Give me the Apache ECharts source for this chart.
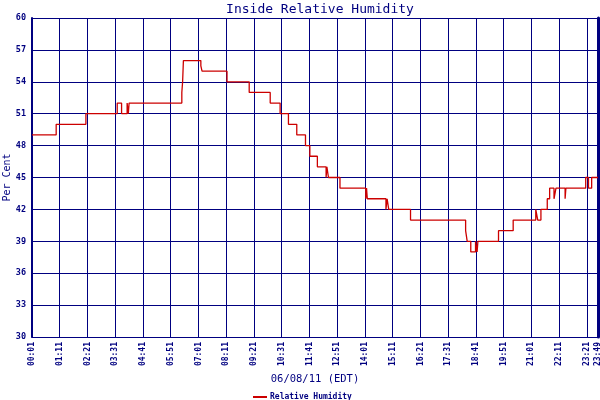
<!DOCTYPE html>
<html>
<head>
<meta charset="utf-8">
<script src="https://cdn.jsdelivr.net/npm/echarts@6/dist/echarts.min.js"></script>
<style>
  html, body { margin: 0; padding: 0; background: #fff; }
  #chart { width: 600px; height: 400px; }
</style>
</head>
<body>
<div id="chart"></div>
<script>
// minutes after 00:01 where a new reading starts
var stepMinutes = [0, 61, 136, 215, 226, 240, 243, 245,
  378, 380, 382, 426, 429, 492,
  548, 601, 626, 647, 668, 690, 701, 720,
  742, 744, 748, 777,
  842, 844, 846,
  893, 896, 900,
  955, 1094, 1098, 1107, 1119, 1123, 1125,
  1177, 1214,
  1271, 1276, 1284,
  1300, 1306, 1317, 1322, 1345, 1347,
  1397, 1404, 1412, 1428];
// relative humidity (%) from that minute on
var humidity = [49, 50, 51, 52, 51, 52, 51, 52,
  53, 54, 56, 55.5, 55, 54,
  53, 52, 51, 50, 49, 48, 47, 46,
  45, 46, 45, 44,
  43, 44, 43,
  42, 43, 42,
  41, 40, 39, 38, 39, 38, 39,
  40, 41,
  42, 41, 42,
  43, 44, 43, 44, 43, 44,
  45, 44, 45, 45];
var yMin = 30, yMax = 60, yStep = 3;
var xMax = 1428, xStep = 70;   // 00:01 .. 23:49, ticks every 70 min

var navy = '#000080';
var mono = '"DejaVu Sans Mono", "Liberation Mono", monospace';

function clock(m) {
  var t = m + 1;
  var h = Math.floor(t / 60), mm = t % 60;
  return (h < 10 ? '0' : '') + h + ':' + (mm < 10 ? '0' : '') + mm;
}

var pts = [];
for (var i = 0; i < stepMinutes.length; i++) {
  pts.push([stepMinutes[i], humidity[i]]);
}

var chart = echarts.init(document.getElementById('chart'));
chart.setOption({
  animation: false,
  backgroundColor: '#fff',
  title: {
    text: 'Inside Relative Humidity',
    left: 315, top: -2, textAlign: 'center',
    textStyle: { color: navy, fontFamily: mono, fontSize: 13, fontWeight: 'normal' }
  },
  legend: {
    left: 248, top: 388,
    itemWidth: 14, itemHeight: 2, itemGap: 4,
    data: [{ name: 'Relative Humidity', icon: 'rect' }],
    textStyle: { color: navy, fontFamily: mono, fontSize: 8, fontWeight: 'bold', padding: [0, 0, 0, -2] }
  },
  grid: { left: 32, right: 2, top: 18, bottom: 63, containLabel: false, outerBoundsMode: 'none' },
  xAxis: {
    type: 'value', min: 0, max: xMax, interval: xStep,
    name: '06/08/11 (EDT)', nameLocation: 'middle', nameGap: 37, nameMoveOverlap: false,
    nameTextStyle: { color: navy, fontFamily: mono, fontSize: 10.5 },
    axisLine: { lineStyle: { color: navy, width: 1 } },
    axisTick: { show: false },
    axisLabel: {
      rotate: 90, margin: 5, color: navy, fontFamily: mono, fontSize: 8, fontWeight: 'bold',
      showMaxLabel: true, showMinLabel: true,
      formatter: function (v) { return clock(v); }
    },
    splitLine: { show: true, lineStyle: { color: navy, width: 1 } }
  },
  yAxis: [{
    type: 'value', min: yMin, max: yMax, interval: yStep,
    name: 'Per Cent', nameLocation: 'middle', nameGap: 20, nameMoveOverlap: false,
    nameTextStyle: { color: navy, fontFamily: mono, fontSize: 10 },
    axisLine: { show: true, lineStyle: { color: navy, width: 2 } },
    axisTick: { show: false },
    axisLabel: { margin: 6, color: navy, fontFamily: mono, fontSize: 8.5, fontWeight: 'bold' },
    splitLine: { show: true, lineStyle: { color: navy, width: 1 } }
  }, {
    type: 'value', min: yMin, max: yMax, interval: yStep, position: 'right',
    axisLine: { show: true, lineStyle: { color: navy, width: 3 } },
    axisTick: { show: false }, axisLabel: { show: false }, splitLine: { show: false }
  }],
  series: [{
    name: 'Relative Humidity',
    type: 'line',
    step: 'end',
    symbol: 'none',
    data: pts,
    lineStyle: { color: '#cc0000', width: 1.3 },
    itemStyle: { color: '#cc0000' }
  }]
});
</script>
</body>
</html>
